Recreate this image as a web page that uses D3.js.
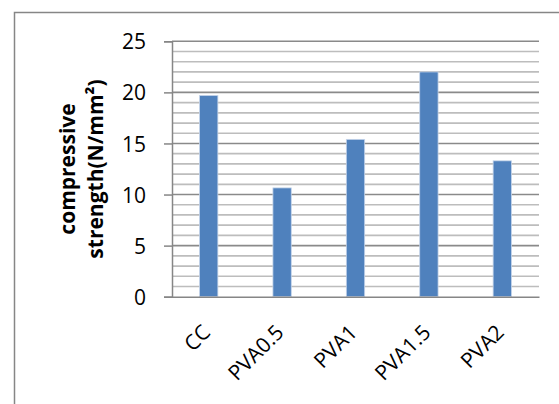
<!DOCTYPE html>
<html><head><meta charset="utf-8">
<script src="https://cdn.jsdelivr.net/npm/d3@7"></script>
<style>body{margin:0;background:#fff}svg{display:block}</style>
</head><body>
<script>
const categories = ["CC","PVA0.5","PVA1","PVA1.5","PVA2"];
const values = [19.7, 10.65, 15.4, 22.0, 13.3];
const yTicks = [0,5,10,15,20,25];
const yMinorTicks = d3.range(0,26,1);
const titleLines = ["compressive","strength(N/mm\u00B2)"];

(function(){
const W=559,H=404;
const svg=d3.select("body").append("svg").attr("width",W).attr("height",H);
const font="'Open Sans', sans-serif";

// outer frame
svg.append("rect").attr("x",14.5).attr("y",12.5).attr("width",W+20).attr("height",H+20)
  .attr("fill","none").attr("stroke","#868686").attr("stroke-width",1.5);

const pl=172,pr=539,pt=41.3,pb=296.7;
const x=d3.scaleBand().domain(categories).range([pl,pr]);
const y=d3.scaleLinear().domain([0,25]).range([pb,pt]);

// minor grid
svg.append("g").selectAll("line").data(yMinorTicks.filter(d=>d%5!==0)).join("line")
  .attr("x1",pl).attr("x2",pr).attr("y1",d=>y(d)).attr("y2",d=>y(d))
  .attr("stroke","#bdbdbd").attr("stroke-width",1.7);
// major grid
svg.append("g").selectAll("line").data(yTicks.filter(d=>d>0)).join("line")
  .attr("x1",pl).attr("x2",pr).attr("y1",d=>y(d)).attr("y2",d=>y(d))
  .attr("stroke","#8a8a8a").attr("stroke-width",1.6);

// y axis
const yAxis=d3.axisLeft(y).tickValues(yTicks).tickSize(8).tickPadding(18);
const gy=svg.append("g").attr("transform",`translate(${pl},0)`).call(yAxis);
gy.select(".domain").attr("stroke","#868686").attr("stroke-width",1.5);
gy.selectAll(".tick line").attr("stroke","#868686").attr("stroke-width",1.5);
gy.selectAll(".tick text").attr("font-family",font).attr("font-size",21).attr("fill","#000")
  .attr("dy","0.36em");

// bars
const bw=x.bandwidth()*0.25;
svg.append("g").selectAll("rect").data(values).join("rect")
  .attr("x",(d,i)=>x(categories[i])+x.bandwidth()/2-bw/2)
  .attr("y",d=>y(d)).attr("width",bw).attr("height",d=>y(0)-y(d))
  .attr("fill","#4f81bd").attr("stroke","#c6d5ea").attr("stroke-width",0.8);

// x axis
const xAxis=d3.axisBottom(x).tickSize(0).tickPadding(0);
const gx=svg.append("g").attr("transform",`translate(0,${pb})`).call(xAxis);
gx.select(".domain").attr("stroke","#868686").attr("stroke-width",1.5);
gx.selectAll(".tick text").attr("font-family",font).attr("font-size",21).attr("fill","#000")
  .attr("text-anchor","end").attr("dy",0).attr("y",0)
  .attr("transform","translate(3,37) rotate(-45)");

// y title
const t=svg.append("text").attr("font-family",font).attr("font-weight","bold").attr("font-size",21)
  .attr("text-anchor","middle").attr("transform",`translate(0,${(pt+pb)/2}) rotate(-90)`);
t.append("tspan").attr("x",0).attr("y",75).text(titleLines[0]);
t.append("tspan").attr("x",0).attr("y",103).text(titleLines[1]);
})();
</script>
</body></html>
